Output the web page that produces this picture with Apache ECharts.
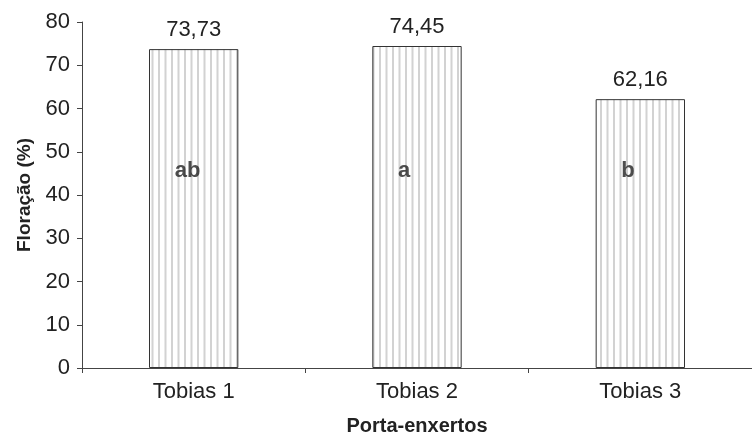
<!DOCTYPE html>
<html>
<head>
<meta charset="utf-8">
<script src="https://cdn.jsdelivr.net/npm/echarts@6/dist/echarts.min.js"></script>
<style>
  html, body { margin: 0; padding: 0; background: #fff; }
  #chart { width: 752px; height: 442px; }
</style>
</head>
<body>
<div id="chart"></div>
<script>
// dados do gráfico
var categories = ['Tobias 1', 'Tobias 2', 'Tobias 3'];
var floracao = [73.73, 74.45, 62.16];
var letras = ['ab', 'a', 'b'];
var letraNivel = [45.5, 45.5, 45.5];
var yTicks = [0, 10, 20, 30, 40, 50, 60, 70, 80];

// padrão de listras verticais (cinza claro sobre branco)
function stripePattern() {
  var c = document.createElement('canvas');
  c.width = 13;
  c.height = 4;
  var ctx = c.getContext('2d');
  ctx.fillStyle = '#ffffff';
  ctx.fillRect(0, 0, 13, 4);
  ctx.fillStyle = '#d2d2d2';
  ctx.fillRect(2, 0, 2, 4);
  ctx.fillRect(8.5, 0, 2, 4);
  return c;
}

var fonte = '"Liberation Sans", Arial, sans-serif';
var chart = echarts.init(document.getElementById('chart'));

chart.setOption({
  animation: false,
  textStyle: { fontFamily: fonte },
  grid: { left: 82, top: 22, right: -5, bottom: 74 },
  xAxis: {
    type: 'category',
    data: categories,
    name: 'Porta-enxertos',
    nameLocation: 'middle',
    nameGap: 48,
    nameTextStyle: { fontSize: 20, fontWeight: 'bold', color: '#222', fontFamily: fonte },
    axisLine: { lineStyle: { color: '#444', width: 1 } },
    axisTick: { show: true, length: 5, lineStyle: { color: '#444' } },
    axisLabel: { fontSize: 22, color: '#222', margin: 13, fontFamily: fonte }
  },
  yAxis: {
    type: 'value',
    min: 0,
    max: yTicks[yTicks.length - 1],
    interval: 10,
    name: 'Floração (%)',
    nameLocation: 'middle',
    nameGap: 48,
    nameTextStyle: { fontSize: 19, fontWeight: 'bold', color: '#222', fontFamily: fonte },
    axisLine: { show: true, lineStyle: { color: '#444', width: 1 } },
    axisTick: { show: true, length: 5, lineStyle: { color: '#444' } },
    axisLabel: { fontSize: 22, color: '#222', margin: 12, fontFamily: fonte },
    splitLine: { show: false }
  },
  series: [
    {
      type: 'bar',
      data: floracao,
      barWidth: '40%',
      itemStyle: {
        color: { image: stripePattern(), repeat: 'repeat' },
        borderColor: '#333',
        borderWidth: 1
      },
      label: {
        show: true,
        position: 'top',
        distance: 8,
        fontSize: 22,
        color: '#222',
        fontFamily: fonte,
        formatter: function (p) { return p.value.toFixed(2).replace('.', ','); }
      }
    },
    {
      type: 'scatter',
      data: letraNivel,
      symbolSize: 0,
      silent: true,
      label: {
        show: true,
        position: 'inside',
        align: 'left',
        offset: [-19, 0],
        fontSize: 22,
        fontWeight: 'bold',
        color: '#222',
        fontFamily: fonte,
        formatter: function (p) { return letras[p.dataIndex]; }
      }
    }
  ]
});
</script>
</body>
</html>
